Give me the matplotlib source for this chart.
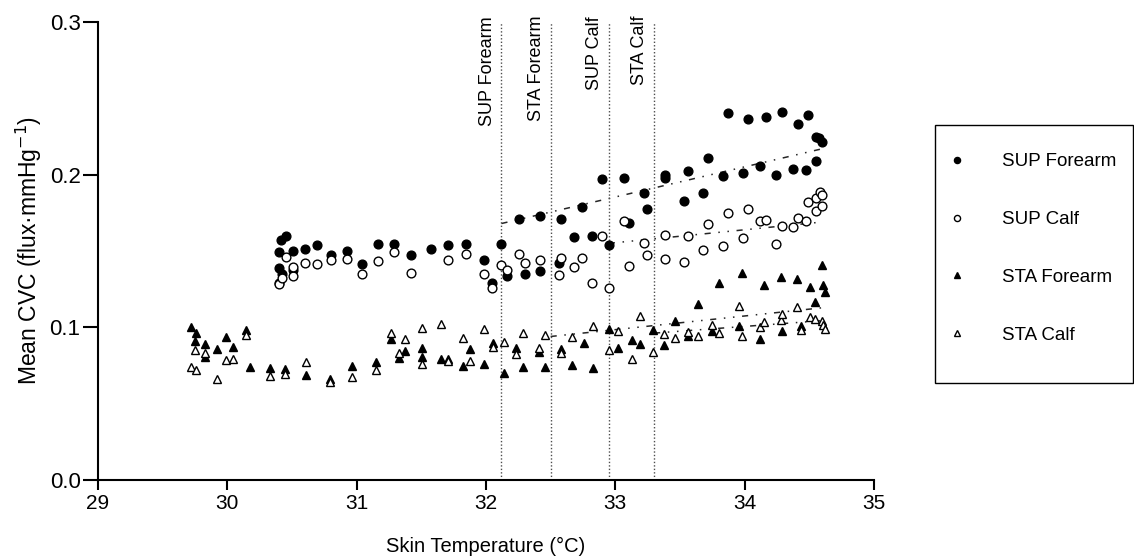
import matplotlib
matplotlib.use("Agg")
import matplotlib.pyplot as plt
from matplotlib.patches import Rectangle
import numpy as np

plt.rcParams['font.family'] = ['Liberation Sans', 'DejaVu Sans']

# SUP Forearm (filled circles)
sup_fa_x = [30.413, 30.451, 30.396, 30.510, 30.601, 30.691, 30.799, 30.923, 31.044, 31.163,
            31.286, 30.396, 30.425, 30.505, 31.422, 31.572, 31.706, 31.843, 31.985, 32.049,
            32.114, 32.160, 32.258, 32.302, 32.418, 32.418, 32.580, 32.740, 32.899, 33.067,
            32.678, 32.822, 32.951, 33.103, 33.222, 33.243, 33.384, 32.567, 33.388, 33.559,
            33.714, 33.835, 33.989, 34.119, 34.240, 34.371, 34.471, 34.554, 33.533, 33.677,
            33.868, 34.028, 34.165, 34.286, 34.410, 34.487, 34.549, 34.577, 34.602]
sup_fa_y = [0.1572, 0.1598, 0.1493, 0.1500, 0.1513, 0.1537, 0.1476, 0.1500, 0.1415, 0.1546,
            0.1546, 0.1391, 0.1349, 0.1376, 0.1472, 0.1515, 0.1537, 0.1544, 0.1443, 0.1288,
            0.1546, 0.1336, 0.1712, 0.1349, 0.1729, 0.1371, 0.1712, 0.1790, 0.1970, 0.1980,
            0.1594, 0.1598, 0.1537, 0.1681, 0.1882, 0.1777, 0.1998, 0.1421, 0.1976, 0.2026,
            0.2111, 0.1991, 0.2013, 0.2059, 0.2000, 0.2037, 0.2031, 0.2088, 0.1829, 0.1882,
            0.2402, 0.2363, 0.2376, 0.2408, 0.2330, 0.2391, 0.2249, 0.2242, 0.2216]

# SUP Calf (open circles)
sup_calf_x = [30.454, 30.396, 30.396, 30.425, 30.505, 30.510, 30.601, 30.691, 30.799, 30.923,
              31.044, 31.163, 31.286, 31.422, 31.706, 31.843, 31.985, 32.049, 32.114, 32.160,
              32.258, 32.302, 32.418, 32.580, 32.567, 32.678, 32.740, 32.822, 32.899, 32.951,
              33.067, 33.103, 33.222, 33.243, 33.384, 33.384, 33.559, 33.533, 33.680, 33.714,
              33.835, 33.868, 33.989, 34.028, 34.119, 34.165, 34.240, 34.286, 34.371, 34.410,
              34.471, 34.487, 34.549, 34.554, 34.583, 34.602, 34.602]
sup_calf_y = [0.1459, 0.1292, 0.1284, 0.1321, 0.1336, 0.1397, 0.1419, 0.1413, 0.1443, 0.1446,
              0.1349, 0.1433, 0.1495, 0.1354, 0.1443, 0.1478, 0.1347, 0.1260, 0.1410, 0.1376,
              0.1478, 0.1421, 0.1441, 0.1456, 0.1345, 0.1397, 0.1456, 0.1292, 0.1596, 0.1260,
              0.1696, 0.1402, 0.1550, 0.1474, 0.1605, 0.1448, 0.1598, 0.1430, 0.1507, 0.1677,
              0.1533, 0.1747, 0.1587, 0.1773, 0.1698, 0.1705, 0.1546, 0.1664, 0.1657, 0.1718,
              0.1698, 0.1821, 0.1764, 0.1845, 0.1884, 0.1865, 0.1795]

# STA Forearm (filled triangles)
sta_fa_x = [29.719, 29.755, 29.750, 29.831, 29.831, 29.918, 29.987, 30.046, 30.148, 30.175,
            30.330, 30.446, 30.608, 30.794, 30.962, 31.153, 31.263, 31.325, 31.376, 31.508,
            31.508, 31.650, 31.710, 31.825, 31.876, 31.985, 32.057, 32.142, 32.230, 32.289,
            32.456, 32.410, 32.580, 32.663, 32.760, 32.830, 32.949, 33.018, 33.129, 33.188,
            33.294, 33.379, 33.462, 33.560, 33.639, 33.750, 33.799, 33.954, 33.982, 34.116,
            34.152, 34.281, 34.291, 34.407, 34.436, 34.508, 34.541, 34.596, 34.608, 34.622]
sta_fa_y = [0.1004, 0.0965, 0.0912, 0.0889, 0.0808, 0.0860, 0.0935, 0.0873, 0.0983, 0.0742,
            0.0732, 0.0727, 0.0688, 0.0664, 0.0747, 0.0771, 0.0922, 0.0797, 0.0845, 0.0867,
            0.0808, 0.0793, 0.0793, 0.0749, 0.0860, 0.0758, 0.0899, 0.0703, 0.0867, 0.0742,
            0.0742, 0.0836, 0.0856, 0.0753, 0.0895, 0.0736, 0.0987, 0.0863, 0.0917, 0.0889,
            0.0983, 0.0884, 0.1043, 0.0945, 0.1153, 0.0978, 0.1288, 0.1011, 0.1358, 0.0922,
            0.1277, 0.1328, 0.0976, 0.1315, 0.1009, 0.1262, 0.1164, 0.1408, 0.1277, 0.1229]

# STA Calf (open triangles)
sta_calf_x = [29.750, 29.719, 29.755, 29.831, 29.918, 29.987, 30.046, 30.148, 30.330, 30.446,
              30.608, 30.794, 30.962, 31.153, 31.263, 31.325, 31.376, 31.508, 31.508, 31.650,
              31.710, 31.825, 31.876, 31.985, 32.057, 32.142, 32.230, 32.289, 32.456, 32.410,
              32.580, 32.663, 32.830, 32.949, 33.018, 33.129, 33.188, 33.294, 33.379, 33.462,
              33.560, 33.639, 33.750, 33.799, 33.954, 33.982, 34.116, 34.152, 34.281, 34.291,
              34.407, 34.436, 34.508, 34.541, 34.596, 34.608, 34.622]
sta_calf_y = [0.0852, 0.0742, 0.0721, 0.0830, 0.0664, 0.0786, 0.0793, 0.0950, 0.0681, 0.0694,
              0.0771, 0.0640, 0.0673, 0.0721, 0.0961, 0.0834, 0.0924, 0.0994, 0.0760, 0.1022,
              0.0781, 0.0928, 0.0781, 0.0987, 0.0873, 0.0906, 0.0823, 0.0961, 0.0950, 0.0862,
              0.0830, 0.0939, 0.1011, 0.0852, 0.0978, 0.0793, 0.1074, 0.0836, 0.0956, 0.0928,
              0.0971, 0.0945, 0.1015, 0.0965, 0.1140, 0.0945, 0.1004, 0.1033, 0.1048, 0.1087,
              0.1135, 0.0983, 0.1070, 0.1057, 0.1043, 0.1015, 0.0987]

# threshold temperatures (vertical lines), same order as the fits below
thr_labels = ["SUP Forearm", "STA Forearm", "SUP Calf", "STA Calf"]
thr_temps = [32.12, 32.50, 32.95, 33.30]
# regression lines above threshold: value at threshold and at highest temperature
fit_y_start = [0.168, 0.094, 0.155, 0.0962]
fit_y_end = [0.217, 0.113, 0.169, 0.1045]

fig = plt.figure(figsize=(11.34, 5.58), dpi=100)
ax = fig.add_axes([0.0864, 0.1398, 0.6843, 0.8208])

ms = 6.3
ax.plot(sup_fa_x, sup_fa_y, 'o', color='black', ms=ms, label="SUP Forearm")
ax.plot(sup_calf_x, sup_calf_y, 'o', mfc='white', mec='black', mew=1.0, ms=ms, label="SUP Calf")
ax.plot(sta_fa_x, sta_fa_y, '^', color='black', ms=ms, label="STA Forearm")
ax.plot(sta_calf_x, sta_calf_y, '^', mfc='white', mec='black', mew=1.0, ms=ms, label="STA Calf")

all_x = [sup_fa_x, sta_fa_x, sup_calf_x, sta_calf_x]
for xs, t, y0, y1 in zip(all_x, thr_temps, fit_y_start, fit_y_end):
    ax.plot([t, max(xs)], [y0, y1], color='0.15', lw=1.1, ls=(0, (4, 5, 1, 5, 1, 5)), zorder=1)

for lab, t in zip(thr_labels, thr_temps):
    ax.plot([t, t], [0, 0.3], color='0.3', lw=1.0, ls=(0, (1, 1.5)), zorder=1, clip_on=False)
    ax.text(t - 0.045, 0.304, lab, rotation=90, ha='right', va='top', fontsize=13, clip_on=False)

ax.set_xlim(29, 35)
ax.set_ylim(0, 0.3)
ax.set_xticks([29, 30, 31, 32, 33, 34, 35])
ax.set_yticks([0.0, 0.1, 0.2, 0.3])
ax.set_yticklabels(["0.0", "0.1", "0.2", "0.3"])
ax.spines['top'].set_visible(False)
ax.spines['right'].set_visible(False)
for s in ['left', 'bottom']:
    ax.spines[s].set_linewidth(1.5)
ax.tick_params(axis='x', direction='out', length=7, width=1.5, labelsize=15, pad=3)
ax.tick_params(axis='y', direction='out', length=10.5, width=1.5, labelsize=16, pad=2)

ax.set_xlabel("Skin Temperature (°C)", fontsize=14.5, labelpad=17)
ax.set_ylabel("Mean CVC (flux·mmHg$^{-1}$)", fontsize=16.5, labelpad=4)

leg = ax.legend(loc='upper left', bbox_to_anchor=(0.8245, 0.749), bbox_transform=fig.transFigure,
                borderaxespad=0, frameon=False, fontsize=13.5,
                labelspacing=2.17, handletextpad=1.88, borderpad=0.7, markerscale=0.7,
                handlelength=1.0)
fig.patches.append(Rectangle((935 / 1134, (558 - 383) / 558), (1133 - 935) / 1134, (383 - 125) / 558,
                             transform=fig.transFigure, fill=False, edgecolor='black', lw=1.0))

plt.savefig("out.png", dpi=100)
